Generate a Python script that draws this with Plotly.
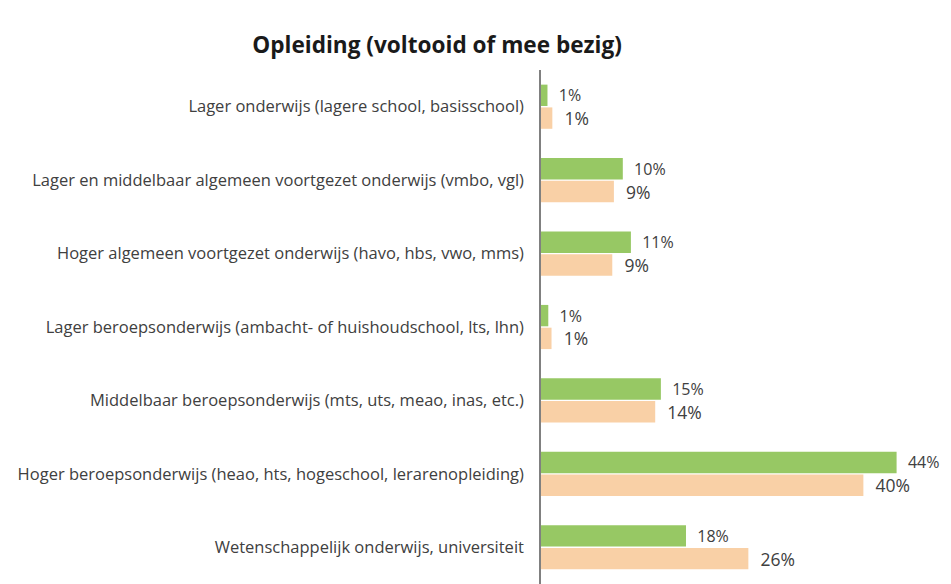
import plotly.graph_objects as go

categories = [
    "Lager onderwijs (lagere school, basisschool)",
    "Lager en middelbaar algemeen voortgezet onderwijs (vmbo, vgl)",
    "Hoger algemeen voortgezet onderwijs (havo, hbs, vwo, mms)",
    "Lager beroepsonderwijs (ambacht- of huishoudschool, lts, lhn)",
    "Middelbaar beroepsonderwijs (mts, uts, meao, inas, etc.)",
    "Hoger beroepsonderwijs (heao, hts, hogeschool, lerarenopleiding)",
    "Wetenschappelijk onderwijs, universiteit",
]
series_green = [0.8, 10.1, 11.1, 0.9, 14.8, 43.9, 17.9]
series_peach = [1.4, 9.0, 8.8, 1.3, 14.1, 39.8, 25.6]

FONT = "Open Sans"
PAD = "\u00a0\u00a0"

fig = go.Figure()
fig.add_trace(go.Bar(
    y=categories, x=series_green, orientation="h",
    marker=dict(color="#97C864", line=dict(width=0)),
    texttemplate=PAD + "%{x:.0f}%", textposition="outside", constraintext="none",
    textfont=dict(family=FONT, size=16, color="#404040"),
    cliponaxis=False, name="A",
))
fig.add_trace(go.Bar(
    y=categories, x=series_peach, orientation="h",
    marker=dict(color="#F9D0A6", line=dict(width=0)),
    texttemplate=PAD + "%{x:.0f}%", textposition="outside", constraintext="none",
    textfont=dict(family=FONT, size=17.5, color="#404040"),
    cliponaxis=False, name="B",
))

fig.update_layout(
    width=943, height=576,
    barmode="group", bargap=0.38, bargroupgap=0.06,
    showlegend=False,
    paper_bgcolor="white", plot_bgcolor="white",
    margin=dict(l=533, r=5, t=62, b=0),
    title=dict(text="<b>Opleiding (voltooid of mee bezig)</b>",
               x=0.455, xanchor="center", y=0.936, yanchor="middle",
               font=dict(family=FONT, size=22.6, color="#1a1a1a")),
    xaxis=dict(range=[0, 50], visible=False, showgrid=False, zeroline=False),
    yaxis=dict(autorange="reversed", showline=True, linecolor="#808080", linewidth=1.5,
               ticks="", ticklabelstandoff=12, showgrid=False,
               tickfont=dict(family=FONT, size=16.5, color="#404040")),
)

fig.write_html("out.html")
